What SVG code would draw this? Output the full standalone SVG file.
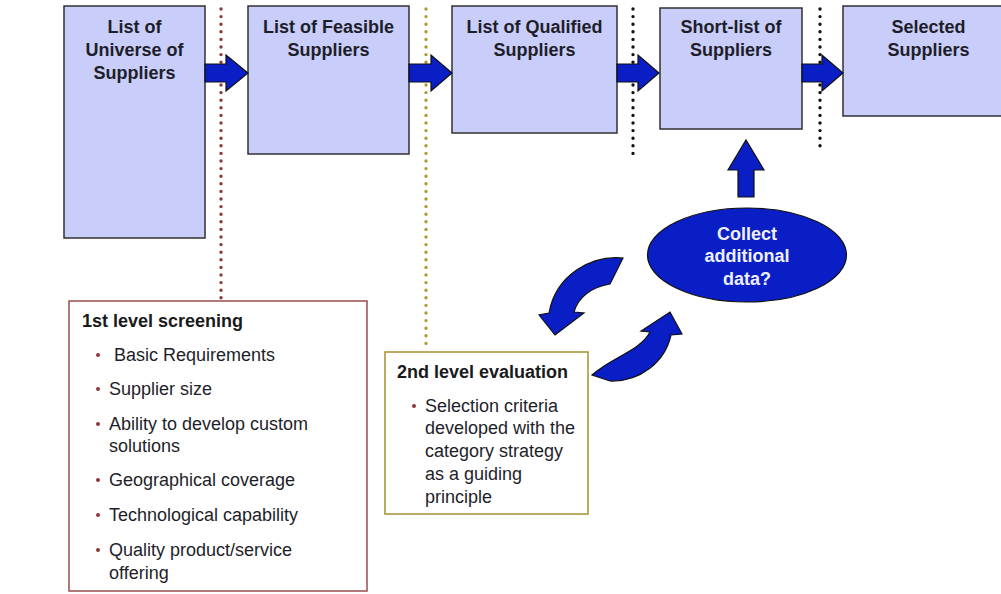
<svg xmlns="http://www.w3.org/2000/svg" width="1001" height="594" viewBox="0 0 1001 594">
  <style>
    .box { fill: #C9CDF9; stroke: #303030; stroke-width: 1.5; }
    .title { font-family: "Liberation Sans", Arial, sans-serif; font-size: 18px; font-weight: bold; fill: #1e1e2a; text-anchor: middle; }
    .blue { fill: #0A1EC6; stroke: #101010; stroke-width: 1.2; stroke-linejoin: miter; }
    .oval-text { font-family: "Liberation Sans", Arial, sans-serif; font-size: 18px; font-weight: bold; fill: #EEF0FF; text-anchor: middle; }
    .note-title { font-family: "Liberation Sans", Arial, sans-serif; font-size: 18px; font-weight: bold; fill: #1a1a1a; }
    .item { font-family: "Liberation Sans", Arial, sans-serif; font-size: 18px; fill: #1e1e2a; }
    .bullet { fill: #8B3A3A; }
    .dots { fill: none; stroke-width: 3.4; stroke-linecap: round; stroke-dasharray: 0 7.6; }
  </style>

  <!-- stage dividers -->
  <g id="dividers">
    <line class="dots" x1="221" y1="9" x2="221" y2="299" stroke="#8B3A3A"/>
    <line class="dots" x1="426" y1="9" x2="426" y2="350" stroke="#B09A2E"/>
    <line class="dots" x1="633" y1="9" x2="633" y2="155" stroke="#111111"/>
    <line class="dots" x1="820" y1="9" x2="820" y2="152" stroke="#111111"/>
  </g>

  <!-- supplier list stages -->
  <g id="universe">
    <rect class="box" x="64" y="6" width="141" height="232"/>
    <text class="title" x="134.5" y="33">List of</text>
    <text class="title" x="134.5" y="56">Universe of</text>
    <text class="title" x="134.5" y="79">Suppliers</text>
  </g>
  <g id="feasible">
    <rect class="box" x="248" y="6" width="161" height="148"/>
    <text class="title" x="328.5" y="33">List of Feasible</text>
    <text class="title" x="328.5" y="56">Suppliers</text>
  </g>
  <g id="qualified">
    <rect class="box" x="452" y="6" width="165" height="127"/>
    <text class="title" x="534.5" y="33">List of Qualified</text>
    <text class="title" x="534.5" y="56">Suppliers</text>
  </g>
  <g id="shortlist">
    <rect class="box" x="660" y="8" width="142" height="121"/>
    <text class="title" x="731" y="33">Short-list of</text>
    <text class="title" x="731" y="56">Suppliers</text>
  </g>
  <g id="selected">
    <rect class="box" x="843" y="6" width="171" height="110"/>
    <text class="title" x="928.5" y="33">Selected</text>
    <text class="title" x="928.5" y="56">Suppliers</text>
  </g>

  <!-- decision oval -->
  <g id="collect">
    <ellipse class="blue" cx="747" cy="255" rx="99.5" ry="47"/>
    <text class="oval-text" x="747" y="240">Collect</text>
    <text class="oval-text" x="747" y="262">additional</text>
    <text class="oval-text" x="747" y="285">data?</text>
  </g>

  <!-- screening criteria -->
  <g id="screening">
    <rect x="69" y="301" width="298" height="290" fill="#FFFFFF" stroke="#9A4C4C" stroke-width="1.5"/>
    <text class="note-title" x="82" y="327">1st level screening</text>
    <circle class="bullet" cx="98" cy="355" r="2"/>
    <text class="item" x="114" y="361">Basic Requirements</text>
    <circle class="bullet" cx="98" cy="389" r="2"/>
    <text class="item" x="109" y="395">Supplier size</text>
    <circle class="bullet" cx="98" cy="424" r="2"/>
    <text class="item" x="109" y="430">Ability to develop custom</text>
    <text class="item" x="109" y="452">solutions</text>
    <circle class="bullet" cx="98" cy="480" r="2"/>
    <text class="item" x="109" y="486">Geographical coverage</text>
    <circle class="bullet" cx="98" cy="515" r="2"/>
    <text class="item" x="109" y="521">Technological capability</text>
    <circle class="bullet" cx="98" cy="550" r="2"/>
    <text class="item" x="109" y="556">Quality product/service</text>
    <text class="item" x="109" y="579">offering</text>
  </g>

  <g id="evaluation">
    <rect x="385" y="352" width="203" height="162" fill="#FFFFFF" stroke="#A8902E" stroke-width="1.5"/>
    <text class="note-title" x="397" y="378">2nd level evaluation</text>
    <circle class="bullet" cx="414" cy="406" r="2"/>
    <text class="item" x="425" y="412">Selection criteria</text>
    <text class="item" x="425" y="434">developed with the</text>
    <text class="item" x="425" y="457">category strategy</text>
    <text class="item" x="425" y="480">as a guiding</text>
    <text class="item" x="425" y="503">principle</text>
  </g>

  <!-- block arrows -->
  <g id="connectors">
    <path class="blue" d="M205,64 H226 V55 L248,73 L226,91 V82 H205 Z"/>
    <path class="blue" d="M409,64 H431 V55 L452,73 L431,91 V82 H409 Z"/>
    <path class="blue" d="M617,64 H638 V55 L659,73 L638,91 V82 H617 Z"/>
    <path class="blue" d="M802,64 H822 V55 L843,73 L822,91 V82 H802 Z"/>
    <path class="blue" d="M738,197 V170 H728 L746,140 L764,170 H754 V197 Z"/>
    <path class="blue" d="M623,258 C592,255 556,274 549,313 L539,315 L555,335 L584,313 L574,312 C578,297 592,287 610,284 Z"/>
    <path class="blue" d="M592,375 C612,357 640,351 650,332 L641,331 L670,312 L682,334 L671,335 C665,362 640,382 610,381 Z"/>
  </g>
</svg>
